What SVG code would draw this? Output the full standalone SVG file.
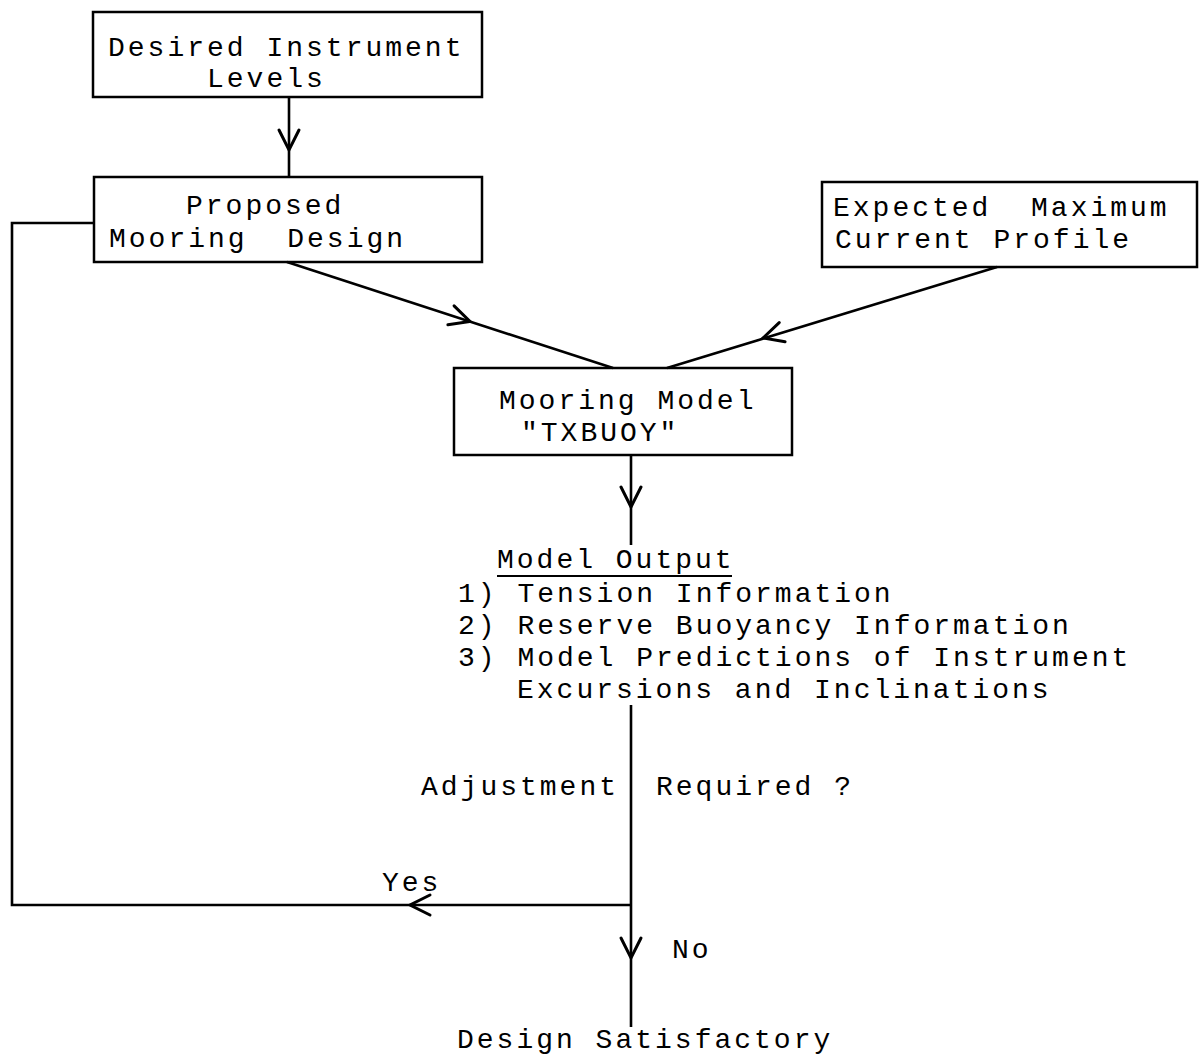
<svg xmlns="http://www.w3.org/2000/svg" xmlns:xlink="http://www.w3.org/1999/xlink" width="1204" height="1058" viewBox="0 0 1204 1058">
<style>
  .box{fill:none;stroke:#000;stroke-width:2.5}
  .ln{fill:none;stroke:#000;stroke-width:2.6;stroke-linejoin:miter}
  .ah{fill:none;stroke:#000;stroke-width:3;stroke-linecap:round;stroke-linejoin:miter}
  text{font-family:"Liberation Mono","Courier New",monospace;font-size:28px;letter-spacing:3px;fill:#000;white-space:pre}
</style>
<defs>
  <path id="chev" d="M -20 -10 L 0 0 L -20 10"/>
</defs>
<rect width="1204" height="1058" fill="#fff"/>
<g id="connectors">
  <path class="ln" d="M 289 97 L 289 177"/>
  <path class="ln" d="M 287 262 L 613 368"/>
  <path class="ln" d="M 997 267 L 667 368"/>
  <path class="ln" d="M 631 455 L 631 545"/>
  <path class="ln" d="M 631 705 L 631 1027"/>
  <path class="ln" d="M 631 905 L 12 905 L 12 223 L 94 223"/>
  <use xlink:href="#chev" class="ah" transform="translate(289,150) rotate(90)"/>
  <use xlink:href="#chev" class="ah" transform="translate(470,321.5) rotate(18)"/>
  <use xlink:href="#chev" class="ah" transform="translate(763,338) rotate(163)"/>
  <use xlink:href="#chev" class="ah" transform="translate(631,507) rotate(90)"/>
  <use xlink:href="#chev" class="ah" transform="translate(410,905) rotate(180)"/>
  <use xlink:href="#chev" class="ah" transform="translate(631,958) rotate(90)"/>
</g>
<g id="desired">
  <rect class="box" x="93" y="12" width="389" height="85"/>
  <text x="108" y="56">Desired Instrument</text>
  <text x="207" y="87">Levels</text>
</g>
<g id="proposed">
  <rect class="box" x="94" y="177" width="388" height="85"/>
  <text x="186" y="214">Proposed</text>
  <text x="109" y="247">Mooring  Design</text>
</g>
<g id="expected">
  <rect class="box" x="822" y="182" width="375" height="85"/>
  <text x="833" y="216">Expected  Maximum</text>
  <text x="835" y="248">Current Profile</text>
</g>
<g id="model">
  <rect class="box" x="454" y="368" width="338" height="87"/>
  <text x="499" y="409">Mooring Model</text>
  <text x="521" y="441">"TXBUOY"</text>
</g>
<g id="output">
  <text x="497" y="568">Model Output</text>
  <line x1="497" y1="576" x2="732" y2="576" stroke="#000" stroke-width="2.2"/>
  <text x="458" y="602">1) Tension Information</text>
  <text x="458" y="634">2) Reserve Buoyancy Information</text>
  <text x="458" y="666">3) Model Predictions of Instrument</text>
  <text x="517" y="698">Excursions and Inclinations</text>
</g>
<g id="decision">
  <text x="421" y="795">Adjustment</text>
  <text x="656" y="795">Required ?</text>
</g>
<g id="yes">
  <text x="382" y="891">Yes</text>
</g>
<g id="no">
  <text x="672" y="958">No</text>
</g>
<g id="satisfactory">
  <text x="457" y="1048">Design Satisfactory</text>
</g>
</svg>
